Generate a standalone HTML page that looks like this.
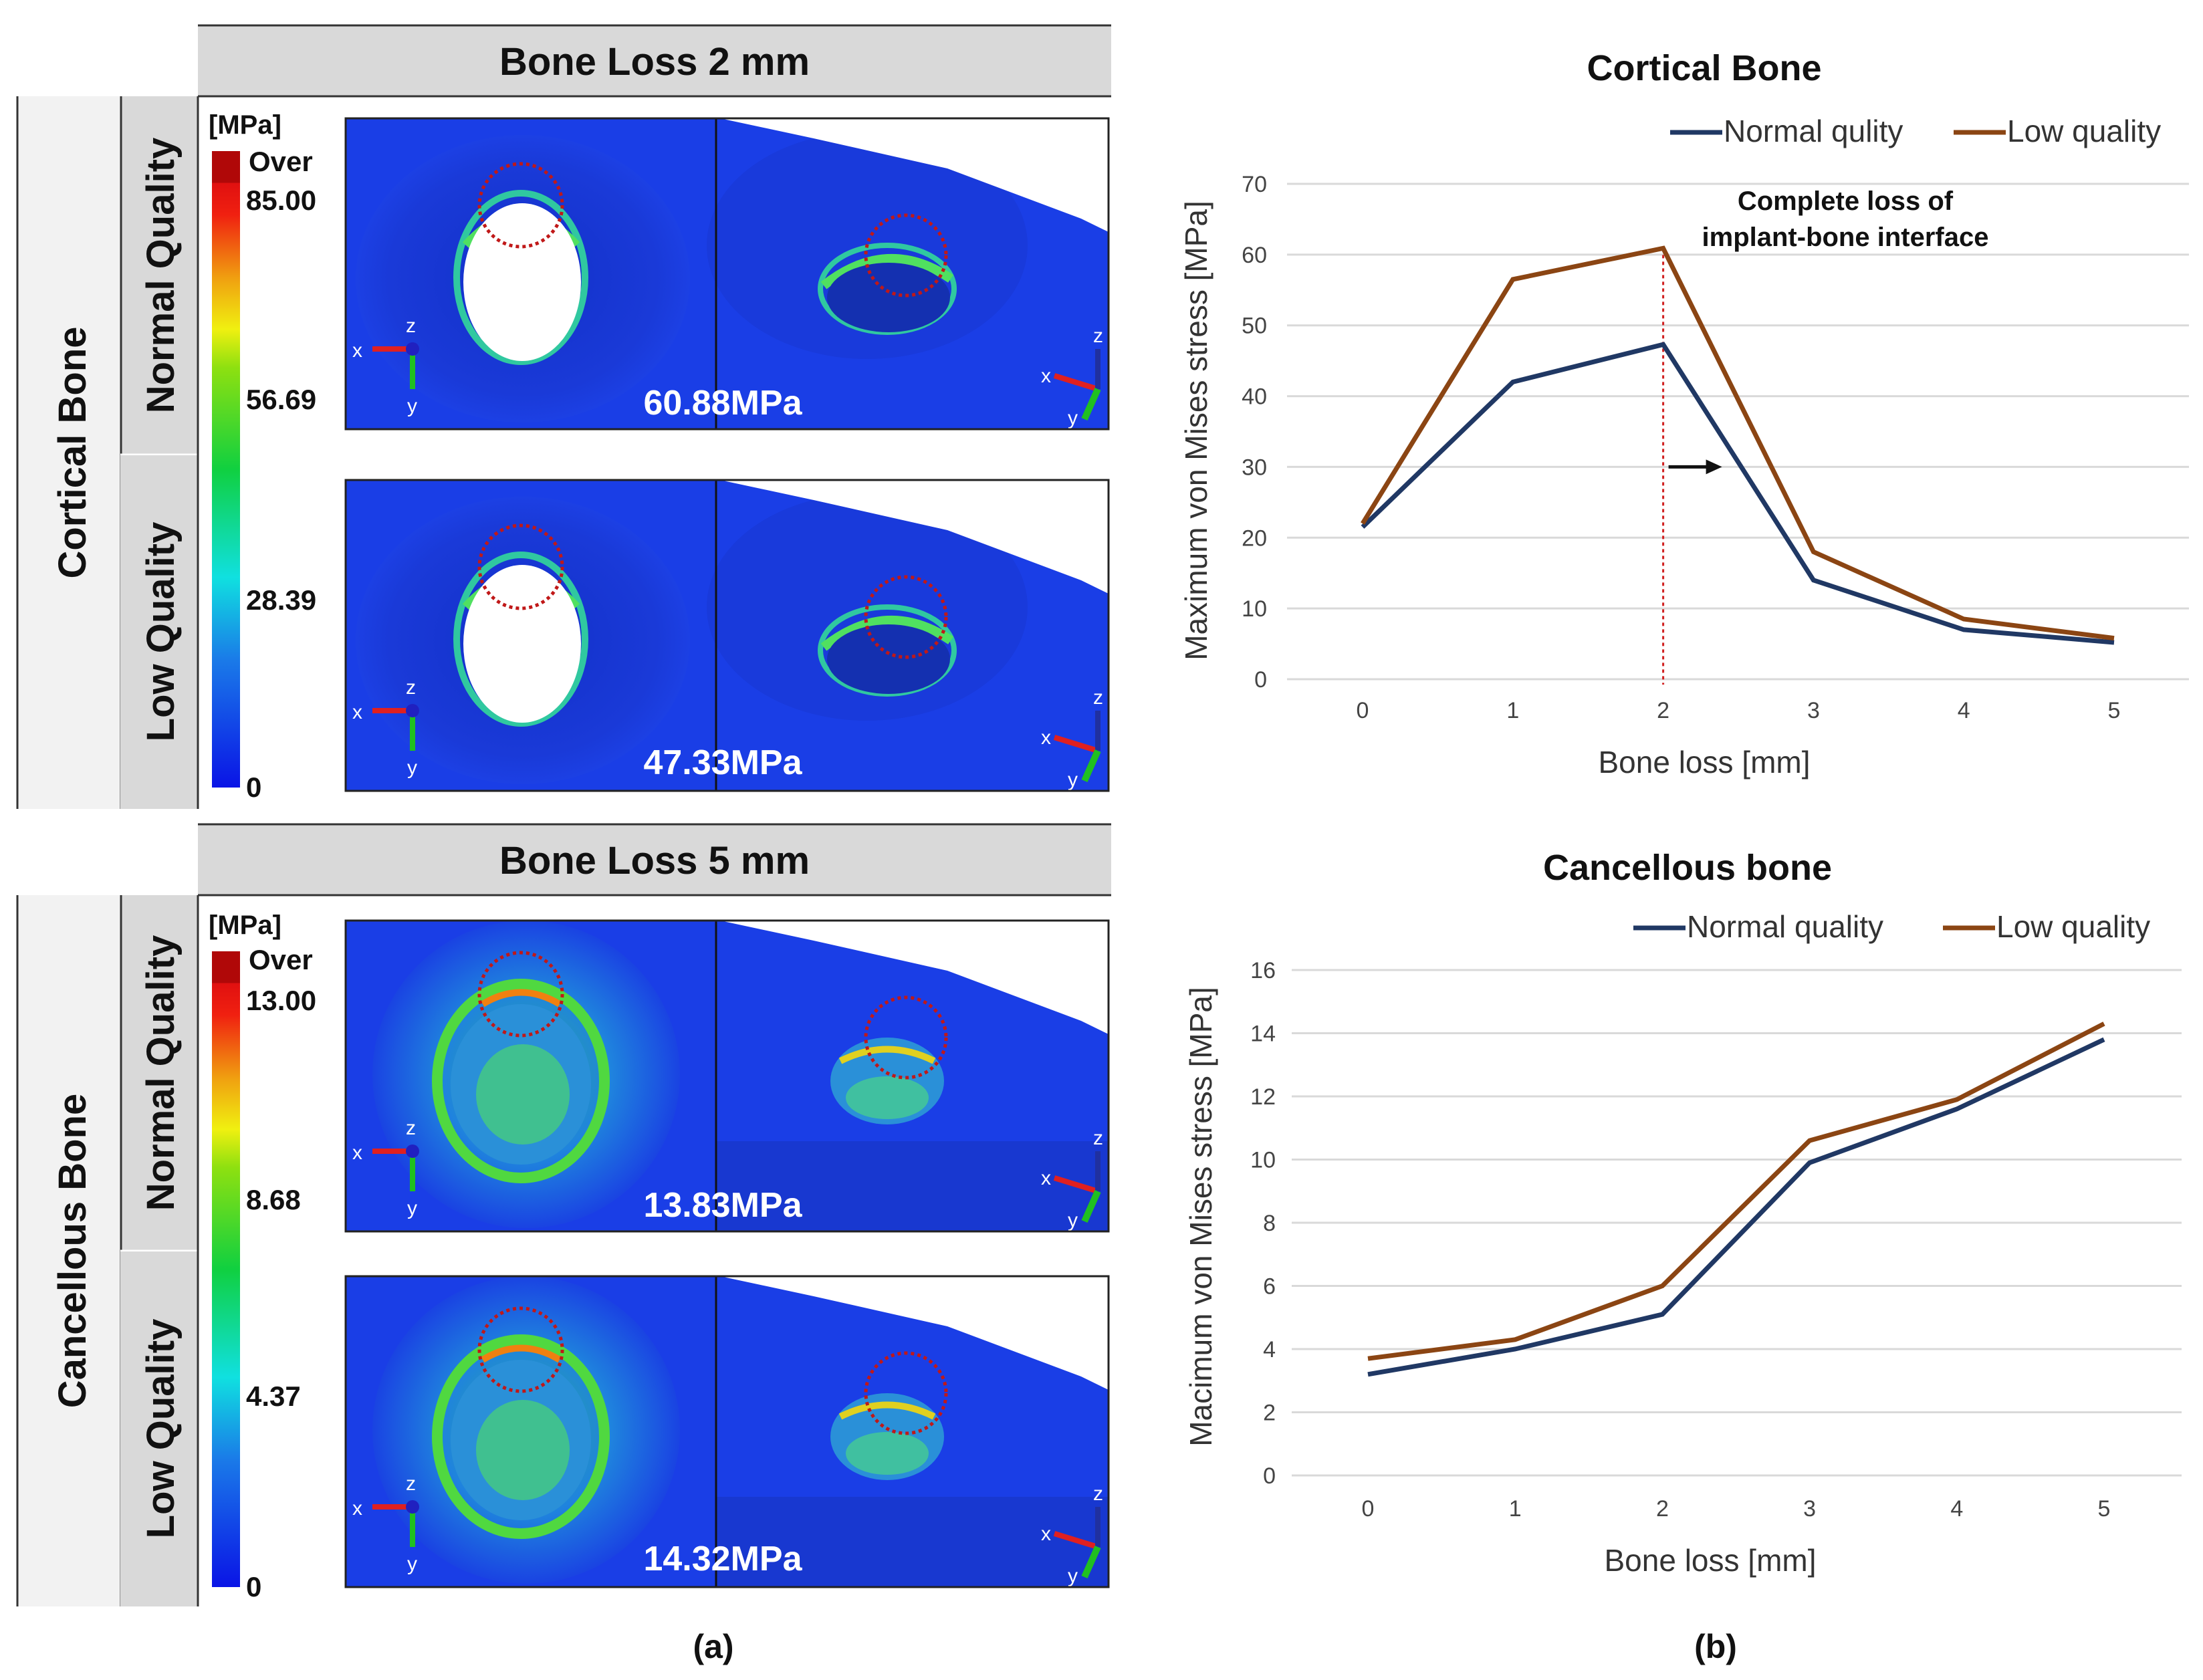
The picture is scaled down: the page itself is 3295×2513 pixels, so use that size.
<!DOCTYPE html>
<html><head><meta charset="utf-8">
<style>
html,body{margin:0;padding:0;background:#fff;}
svg{display:block;}
text{font-family:"Liberation Sans",Arial,sans-serif;}
</style></head>
<body>
<svg id="root" width="3295" height="2513" viewBox="0 0 3295 2513" xmlns="http://www.w3.org/2000/svg">
<defs>
  <linearGradient id="cbar" x1="0" y1="1" x2="0" y2="0">
    <stop offset="0" stop-color="#0a14e6"/>
    <stop offset="0.2" stop-color="#1a7ae8"/>
    <stop offset="0.33" stop-color="#10e0e0"/>
    <stop offset="0.5" stop-color="#10d040"/>
    <stop offset="0.66" stop-color="#8ee010"/>
    <stop offset="0.72" stop-color="#f0f010"/>
    <stop offset="0.8" stop-color="#f0a010"/>
    <stop offset="0.9" stop-color="#f02010"/>
    <stop offset="0.95" stop-color="#e01010"/>
    <stop offset="0.95" stop-color="#b00808"/>
    <stop offset="1" stop-color="#b00808"/>
  </linearGradient>
  <radialGradient id="dimple" cx="0.5" cy="0.5" r="0.5">
    <stop offset="0" stop-color="#1230c8"/>
    <stop offset="0.8" stop-color="#1a3ad8"/>
    <stop offset="1" stop-color="#1c40e4"/>
  </radialGradient>
  <radialGradient id="canc" cx="0.5" cy="0.5" r="0.5">
    <stop offset="0" stop-color="#30c080"/>
    <stop offset="0.55" stop-color="#2090dc"/>
    <stop offset="1" stop-color="#1a44e2"/>
  </radialGradient>
</defs>

<g>
  <g>
    <rect x="296" y="38" width="1366" height="106" fill="#d9d9d9"/>
    <line x1="296" y1="38" x2="1662" y2="38" stroke="#333" stroke-width="3"/>
    <line x1="296" y1="144" x2="1662" y2="144" stroke="#333" stroke-width="3"/>
    <text x="979" y="112" font-size="58" font-weight="bold" text-anchor="middle" fill="#111">Bone Loss 2 mm</text>
  </g>
  <g>
    <rect x="25" y="144" width="155" height="1066" fill="#f2f2f2"/>
    <line x1="26" y1="144" x2="26" y2="1210" stroke="#333" stroke-width="3"/>
    <text transform="translate(128,677) rotate(-90)" font-size="58" font-weight="bold" text-anchor="middle" fill="#111">Cortical Bone</text>
  </g>
  <g>
    <rect x="180" y="144" width="116" height="536" fill="#d9d9d9"/>
    <line x1="181" y1="144" x2="181" y2="1210" stroke="#333" stroke-width="3"/>
    <line x1="180" y1="680" x2="296" y2="680" stroke="#fff" stroke-width="3"/>
    <text transform="translate(260,412) rotate(-90)" font-size="58" font-weight="bold" text-anchor="middle" fill="#111">Normal Quality</text>
  </g>
  <g>
    <rect x="180" y="681" width="116" height="529" fill="#d9d9d9"/>
    <text transform="translate(260,945) rotate(-90)" font-size="58" font-weight="bold" text-anchor="middle" fill="#111">Low Quality</text>
  </g>
  <line x1="296" y1="144" x2="296" y2="1210" stroke="#333" stroke-width="3"/>

  <g>
    <rect x="317" y="226" width="42" height="952" fill="url(#cbar)"/>
    <text x="312" y="200" font-size="40" font-weight="bold" fill="#111">[MPa]</text>
    <text x="372" y="256" font-size="42" font-weight="bold" fill="#111">Over</text>
    <text x="368" y="314" font-size="42" font-weight="bold" fill="#111">85.00</text>
    <text x="368" y="612" font-size="42" font-weight="bold" fill="#111">56.69</text>
    <text x="368" y="912" font-size="42" font-weight="bold" fill="#111">28.39</text>
    <text x="368" y="1192" font-size="42" font-weight="bold" fill="#111">0</text>
  </g>

  <g>
    <rect x="296" y="1233" width="1366" height="106" fill="#d9d9d9"/>
    <line x1="296" y1="1233" x2="1662" y2="1233" stroke="#333" stroke-width="3"/>
    <line x1="296" y1="1339" x2="1662" y2="1339" stroke="#333" stroke-width="3"/>
    <text x="979" y="1307" font-size="58" font-weight="bold" text-anchor="middle" fill="#111">Bone Loss 5 mm</text>
  </g>
  <g>
    <rect x="25" y="1339" width="155" height="1064" fill="#f2f2f2"/>
    <line x1="26" y1="1339" x2="26" y2="2403" stroke="#333" stroke-width="3"/>
    <text transform="translate(128,1871) rotate(-90)" font-size="58" font-weight="bold" text-anchor="middle" fill="#111">Cancellous Bone</text>
  </g>
  <g>
    <rect x="180" y="1339" width="116" height="532" fill="#d9d9d9"/>
    <line x1="181" y1="1339" x2="181" y2="2403" stroke="#333" stroke-width="3"/>
    <line x1="180" y1="1871" x2="296" y2="1871" stroke="#fff" stroke-width="3"/>
    <text transform="translate(260,1605) rotate(-90)" font-size="58" font-weight="bold" text-anchor="middle" fill="#111">Normal Quality</text>
  </g>
  <g>
    <rect x="180" y="1872" width="116" height="531" fill="#d9d9d9"/>
    <text transform="translate(260,2137) rotate(-90)" font-size="58" font-weight="bold" text-anchor="middle" fill="#111">Low Quality</text>
  </g>
  <line x1="296" y1="1339" x2="296" y2="2403" stroke="#333" stroke-width="3"/>

  <g>
    <rect x="317" y="1423" width="42" height="951" fill="url(#cbar)"/>
    <text x="312" y="1397" font-size="40" font-weight="bold" fill="#111">[MPa]</text>
    <text x="372" y="1450" font-size="42" font-weight="bold" fill="#111">Over</text>
    <text x="368" y="1511" font-size="42" font-weight="bold" fill="#111">13.00</text>
    <text x="368" y="1809" font-size="42" font-weight="bold" fill="#111">8.68</text>
    <text x="368" y="2103" font-size="42" font-weight="bold" fill="#111">4.37</text>
    <text x="368" y="2388" font-size="42" font-weight="bold" fill="#111">0</text>
  </g>

  <g id="images"></g>

  <text x="1067" y="2480" font-size="50" font-weight="bold" text-anchor="middle" fill="#111">(a)</text>
</g>

<g id="chart1"></g>
<g id="chart2"></g>
<text x="2566" y="2480" font-size="50" font-weight="bold" text-anchor="middle" fill="#111">(b)</text>
</svg>

<script>
const xCategories = [0, 1, 2, 3, 4, 5];
const corticalNormal = [21.5, 42.0, 47.3, 14.0, 7.0, 5.2];
const corticalLow = [22.0, 56.5, 60.9, 18.0, 8.5, 5.8];
const corticalTicks = [0, 10, 20, 30, 40, 50, 60, 70];
const cancellousNormal = [3.2, 4.0, 5.1, 9.9, 11.6, 13.8];
const cancellousLow = [3.7, 4.3, 6.0, 10.6, 11.9, 14.3];
const cancellousTicks = [0, 2, 4, 6, 8, 10, 12, 14, 16];
const imageLabels = ["60.88MPa", "47.33MPa", "13.83MPa", "14.32MPa"];

const NS = "http://www.w3.org/2000/svg";
function mk(tag, attrs, parent) {
  const e = document.createElementNS(NS, tag);
  for (const k in attrs) e.setAttribute(k, attrs[k]);
  if (parent) parent.appendChild(e);
  return e;
}

function drawChart(g, cfg) {
  const xs = v => cfg.x0 + (v - xCategories[0]) / (xCategories[xCategories.length-1] - xCategories[0]) * (cfg.x1 - cfg.x0);
  const ys = v => cfg.y0 - (v - cfg.ticks[0]) / (cfg.ticks[cfg.ticks.length-1] - cfg.ticks[0]) * (cfg.y0 - cfg.y1);
  cfg.ticks.forEach(t => {
    const gl = mk("line", {x1: cfg.gx0, x2: cfg.gx1, y1: ys(t), y2: ys(t), stroke: "#d9d9d9", "stroke-width": 3}, g);
    
    
    const tl = mk("text", {x: cfg.tickX, y: ys(t) + 12, "font-size": 34, "text-anchor": "end", fill: "#444"}, g);
    tl.textContent = t;
    
    
  });
  xCategories.forEach(c => {
    const tl = mk("text", {x: xs(c), y: cfg.xTickY, "font-size": 34, "text-anchor": "middle", fill: "#444"}, g);
    tl.textContent = c;
    
    
  });
  const tt = mk("text", {x: cfg.titleX, y: cfg.titleY, "font-size": 54, "font-weight": "bold", "text-anchor": "middle", fill: "#111"}, g);
  tt.textContent = cfg.title;
  
  
  const xt = mk("text", {x: cfg.xTitleX, y: cfg.xTitleY, "font-size": 46, "text-anchor": "middle", fill: "#333"}, g);
  xt.textContent = "Bone loss [mm]";
  
  
  const yt = mk("text", {transform: `translate(${cfg.yTitleX},${cfg.yTitleY}) rotate(-90)`, "font-size": 46, "text-anchor": "middle", fill: "#333"}, g);
  yt.textContent = cfg.yTitle;
  
  
  if (cfg.extra) cfg.extra(g, xs, ys);
  [[cfg.normal, "#203864"], [cfg.low, "#8b4513"]].forEach(([arr, col], i) => {
    const pts = arr.map((v, j) => xs(xCategories[j]) + "," + ys(v)).join(" ");
    const pl = mk("polyline", {points: pts, fill: "none", stroke: col, "stroke-width": 7, "stroke-linejoin": "miter"}, g);
    
    
  });
  cfg.legend.forEach(L => {
    const lg = mk("g", {}, g);
    
    
    mk("line", {x1: L.lx, x2: L.lx + 78, y1: cfg.legY - 14, y2: cfg.legY - 14, stroke: L.col, "stroke-width": 7}, lg);
    const t = mk("text", {x: L.lx + 80, y: cfg.legY, "font-size": 46, fill: "#333"}, lg);
    t.textContent = L.text;
  });
}

drawChart(document.getElementById("chart1"), {
  x0: 2038, x1: 3162, y0: 1016, y1: 275, gx0: 1925, gx1: 3274,
  ticks: corticalTicks, normal: corticalNormal, low: corticalLow,
  tickX: 1895, xTickY: 1074, title: "Cortical Bone", titleX: 2549, titleY: 120,
  xTitleX: 2549, xTitleY: 1156, yTitleX: 1805, yTitleY: 644,
  yTitle: "Maximum von Mises stress [MPa]", legY: 212,
  legend: [{lx: 2498, col: "#203864", text: "Normal qulity"}, {lx: 2922, col: "#8b4513", text: "Low quality"}],
  extra: (g, xs, ys) => {
    const vl = mk("line", {x1: xs(2), x2: xs(2), y1: ys(60.9), y2: 1024, stroke: "#d02020", "stroke-width": 3, "stroke-dasharray": "5,5"}, g);
    
    
    const ar = mk("g", {}, g);
    
    
    mk("line", {x1: xs(2) + 8, x2: xs(2) + 70, y1: ys(30), y2: ys(30), stroke: "#111", "stroke-width": 5}, ar);
    mk("polygon", {points: `${xs(2)+88},${ys(30)} ${xs(2)+64},${ys(30)-11} ${xs(2)+64},${ys(30)+11}`, fill: "#111"}, ar);
    const a1 = mk("text", {x: 2760, y: 314, "font-size": 40, "font-weight": "bold", "text-anchor": "middle", fill: "#111"}, g);
    a1.textContent = "Complete loss of";
    
    
    const a2 = mk("text", {x: 2760, y: 368, "font-size": 40, "font-weight": "bold", "text-anchor": "middle", fill: "#111"}, g);
    a2.textContent = "implant-bone interface";
    
    
  }
});

drawChart(document.getElementById("chart2"), {
  x0: 2046, x1: 3147, y0: 2207, y1: 1451, gx0: 1932, gx1: 3263,
  ticks: cancellousTicks, normal: cancellousNormal, low: cancellousLow,
  tickX: 1908, xTickY: 2268, title: "Cancellous bone", titleX: 2524, titleY: 1316,
  xTitleX: 2558, xTitleY: 2350, yTitleX: 1812, yTitleY: 1820,
  yTitle: "Macimum von Mises stress [MPa]", legY: 1402,
  legend: [{lx: 2443, col: "#203864", text: "Normal quality"}, {lx: 2906, col: "#8b4513", text: "Low quality"}]
});

const imgs = document.getElementById("images");
const imgTops = [177, 718, 1377, 1909];
imgTops.forEach((top, i) => {
  const canc = i >= 2;
  const g = mk("g", {transform: `translate(517,${top})`}, imgs);
  
  
  mk("rect", {x: 0, y: 0, width: 1141, height: 465, fill: "#1a3ee6"}, g);
  if (!canc) {
    mk("ellipse", {cx: 265, cy: 240, rx: 250, ry: 215, fill: "url(#dimple)"}, g);
    mk("ellipse", {cx: 262, cy: 238, rx: 96, ry: 126, fill: "none", stroke: "#30c8a0", "stroke-width": 10}, g);
    mk("path", {d: "M180 190 Q262 100 345 190", fill: "none", stroke: "#50e060", "stroke-width": 14}, g);
    mk("ellipse", {cx: 264, cy: 245, rx: 88, ry: 118, fill: "#fff"}, g);
  } else {
    mk("ellipse", {cx: 270, cy: 230, rx: 230, ry: 230, fill: "url(#canc)", opacity: 0.85}, g);
    mk("ellipse", {cx: 262, cy: 240, rx: 125, ry: 145, fill: "none", stroke: "#50d840", "stroke-width": 16}, g);
    mk("ellipse", {cx: 262, cy: 245, rx: 105, ry: 120, fill: "#2a90d8"}, g);
    mk("ellipse", {cx: 265, cy: 260, rx: 70, ry: 75, fill: "#40c090"}, g);
    mk("path", {d: "M205 125 Q262 90 320 125", fill: "none", stroke: "#f08010", "stroke-width": 10}, g);
  }
  mk("circle", {cx: 262, cy: canc ? 110 : 130, r: 62, fill: "none", stroke: "#c01818", "stroke-width": 5, "stroke-dasharray": "5,5"}, g);
  mk("line", {x1: 100, y1: 345, x2: 40, y2: 345, stroke: "#e02020", "stroke-width": 8}, g);
  mk("line", {x1: 100, y1: 345, x2: 100, y2: 405, stroke: "#20c020", "stroke-width": 8}, g);
  mk("circle", {cx: 100, cy: 345, r: 10, fill: "#2020c0"}, g);
  const tx = mk("text", {x: 10, y: 357, "font-size": 30, fill: "#fff"}, g); tx.textContent = "x";
  const ty = mk("text", {x: 92, y: 440, "font-size": 30, fill: "#fff"}, g); ty.textContent = "y";
  const tz = mk("text", {x: 90, y: 320, "font-size": 30, fill: "#fff"}, g); tz.textContent = "z";
  if (!canc) {
    mk("ellipse", {cx: 780, cy: 190, rx: 240, ry: 170, fill: "#1836d0", opacity: 0.5}, g);
  }
  mk("polygon", {points: "560,0 1141,0 1141,170 1100,150 900,75 700,30", fill: "#fff"}, g);
  if (!canc) {
    mk("ellipse", {cx: 810, cy: 255, rx: 100, ry: 65, fill: "none", stroke: "#30c8a0", "stroke-width": 8}, g);
    mk("path", {d: "M715 250 Q810 175 905 240", fill: "none", stroke: "#50e060", "stroke-width": 14}, g);
    mk("ellipse", {cx: 812, cy: 268, rx: 92, ry: 52, fill: "#1430b0"}, g);
  } else {
    mk("rect", {x: 554, y: 330, width: 587, height: 135, fill: "#1838d0"}, g);
    mk("ellipse", {cx: 810, cy: 240, rx: 85, ry: 65, fill: "#2a90d8"}, g);
    mk("path", {d: "M740 210 Q810 175 880 210", fill: "none", stroke: "#e0d020", "stroke-width": 10}, g);
    mk("ellipse", {cx: 810, cy: 265, rx: 62, ry: 32, fill: "#40c0a0"}, g);
  }
  mk("circle", {cx: 838, cy: canc ? 175 : 205, r: 60, fill: "none", stroke: "#c01818", "stroke-width": 5, "stroke-dasharray": "5,5"}, g);
  mk("line", {x1: 1125, y1: 405, x2: 1060, y2: 385, stroke: "#e02020", "stroke-width": 8}, g);
  mk("line", {x1: 1125, y1: 405, x2: 1125, y2: 345, stroke: "#2030a0", "stroke-width": 8}, g);
  mk("line", {x1: 1125, y1: 405, x2: 1105, y2: 450, stroke: "#20c020", "stroke-width": 10}, g);
  const rx = mk("text", {x: 1040, y: 395, "font-size": 30, fill: "#fff"}, g); rx.textContent = "x";
  const rz = mk("text", {x: 1118, y: 335, "font-size": 30, fill: "#fff"}, g); rz.textContent = "z";
  const ry = mk("text", {x: 1080, y: 458, "font-size": 30, fill: "#fff"}, g); ry.textContent = "y";
  mk("line", {x1: 554, y1: 0, x2: 554, y2: 465, stroke: "#111", "stroke-width": 3}, g);
  mk("rect", {x: 0, y: 0, width: 1141, height: 465, fill: "none", stroke: "#222", "stroke-width": 3}, g);
  const vl = mk("text", {x: 564, y: i % 2 === 0 ? 443 : 440, "font-size": 52, "font-weight": "bold", "text-anchor": "middle", fill: "#fff"}, g);
  vl.textContent = imageLabels[i];
  
  
});
</script>
</body></html>
